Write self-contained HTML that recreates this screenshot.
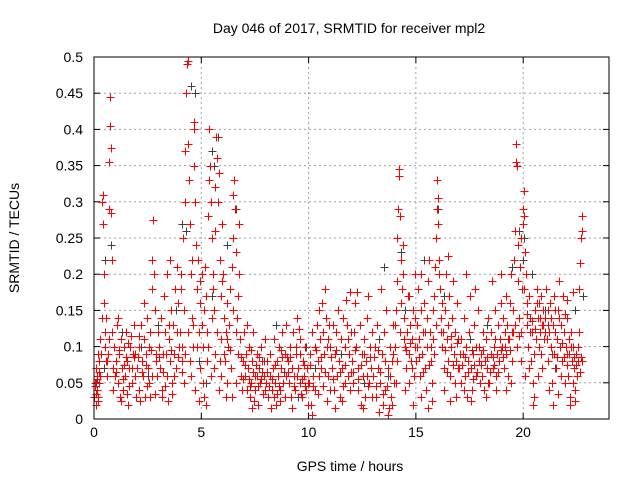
<!DOCTYPE html>
<html><head><meta charset="utf-8">
<style>
html,body{margin:0;padding:0;background:#fff;}
svg{display:block;font-family:"Liberation Sans",Arial,sans-serif;}
</style></head>
<body>
<svg id="chart" width="640" height="480" viewBox="0 0 640 480" xmlns="http://www.w3.org/2000/svg">
<rect width="640" height="480" fill="#fff"/>
<text x="349" y="33" font-size="14" text-anchor="middle" fill="#000">Day 046 of 2017, SRMTID for receiver mpl2</text>
<text transform="translate(19,238) rotate(-90)" font-size="14" text-anchor="middle" fill="#000">SRMTID / TECUs</text>
<text x="350" y="471" font-size="14" text-anchor="middle" fill="#000">GPS time / hours</text>
<g id="grid"></g>
<g id="ticks"></g>
<g id="gray"></g>
<g id="red"></g>
<rect x="94" y="57" width="515" height="362" fill="none" stroke="#000" stroke-width="1"/>
</svg>
<script>
const xTicks = [0,5,10,15,20];
const yTicks = [0,0.05,0.1,0.15,0.2,0.25,0.3,0.35,0.4,0.45,0.5];
const yTickLabels = ["0","0.05","0.1","0.15","0.2","0.25","0.3","0.35","0.4","0.45","0.5"];
const grayPoints = [[0.1,0.05],[0.4,0.27],[0.5,0.22],[0.8,0.24],[0.45,0.07],[1.3,0.12],[2.2,0.1],[3.0,0.13],[3.8,0.15],[4.1,0.27],[4.3,0.26],[4.5,0.46],[4.7,0.45],[4.9,0.08],[5.2,0.05],[5.5,0.37],[5.6,0.35],[5.8,0.39],[5.5,0.17],[6.2,0.24],[6.6,0.29],[7.5,0.04],[8.5,0.13],[9.5,0.03],[10.3,0.07],[11.5,0.09],[12.6,0.05],[13.3,0.11],[13.7,0.06],[13.5,0.21],[14.15,0.29],[14.3,0.23],[14.5,0.15],[15.4,0.22],[16.05,0.29],[16.3,0.17],[17.5,0.11],[18.3,0.13],[19.5,0.21],[19.8,0.26],[20.0,0.22],[20.05,0.25],[20.4,0.2],[21.0,0.15],[21.5,0.07],[22.4,0.15],[22.8,0.17],[2.5,0.06],[7.9,0.08],[9.9,0.1]];
const redPoints = [
[0.02,0.03],[0.05,0.05],[0.08,0.02],[0.1,0.07],[0.12,0.04],[0.15,0.06],[0.18,0.09],[0.2,0.03],[0.22,0.05],[0.25,0.08],[0.28,0.11],[0.3,0.06],[0.35,0.14],[0.38,0.3],[0.4,0.31],[0.42,0.27],[0.45,0.2],[0.47,0.16],[0.5,0.12],[0.52,0.1],[0.55,0.08],[0.58,0.14],[0.6,0.06],[0.65,0.09],[0.7,0.29],[0.72,0.355],[0.74,0.405],[0.75,0.445],[0.77,0.375],[0.8,0.285],[0.82,0.22],[0.85,0.12],[0.88,0.07],[0.9,0.04],[0.95,0.1],[0.98,0.06],
[1.02,0.08],[1.05,0.13],[1.1,0.05],[1.15,0.09],[1.2,0.03],[1.25,0.11],[1.3,0.07],[1.35,0.04],[1.4,0.1],[1.45,0.06],[1.5,0.12],[1.55,0.08],[1.6,0.02],[1.65,0.07],[1.7,0.1],[1.75,0.05],[1.8,0.09],[1.85,0.13],[1.9,0.06],[1.95,0.03],[1.12,0.14],[1.38,0.075],[1.62,0.045],[1.88,0.085],[1.28,0.025],[1.72,0.115],
[2.02,0.07],[2.08,0.1],[2.12,0.04],[2.18,0.13],[2.22,0.08],[2.28,0.06],[2.32,0.11],[2.38,0.03],[2.42,0.09],[2.48,0.14],[2.52,0.07],[2.58,0.05],[2.62,0.12],[2.68,0.18],[2.72,0.22],[2.75,0.275],[2.78,0.2],[2.82,0.15],[2.88,0.09],[2.92,0.06],[2.96,0.12],[2.15,0.025],[2.45,0.045],[2.65,0.095],[2.85,0.035],[2.35,0.16],
[3.02,0.1],[3.08,0.07],[3.12,0.14],[3.18,0.04],[3.22,0.09],[3.28,0.17],[3.32,0.12],[3.38,0.06],[3.42,0.2],[3.48,0.11],[3.52,0.08],[3.58,0.15],[3.62,0.05],[3.68,0.13],[3.72,0.09],[3.78,0.18],[3.82,0.07],[3.88,0.12],[3.92,0.16],[3.97,0.1],[3.15,0.03],[3.45,0.025],[3.65,0.035],[3.85,0.21],[3.55,0.22],
[4.02,0.12],[4.06,0.18],[4.1,0.08],[4.14,0.25],[4.18,0.15],[4.22,0.3],[4.26,0.37],[4.3,0.45],[4.34,0.49],[4.36,0.495],[4.4,0.38],[4.44,0.33],[4.48,0.27],[4.52,0.2],[4.56,0.14],[4.6,0.1],[4.64,0.41],[4.66,0.4],[4.68,0.35],[4.72,0.3],[4.76,0.24],[4.8,0.18],[4.84,0.22],[4.88,0.12],[4.92,0.07],[4.96,0.16],[4.2,0.05],[4.5,0.06],[4.7,0.04],[4.9,0.025],[4.04,0.2],[4.58,0.22],
[5.02,0.2],[5.06,0.1],[5.1,0.05],[5.14,0.15],[5.18,0.21],[5.22,0.02],[5.26,0.08],[5.3,0.28],[5.34,0.33],[5.38,0.4],[5.42,0.35],[5.46,0.3],[5.5,0.25],[5.54,0.2],[5.58,0.15],[5.62,0.26],[5.66,0.32],[5.7,0.39],[5.74,0.36],[5.78,0.3],[5.82,0.34],[5.86,0.22],[5.9,0.17],[5.94,0.11],[5.98,0.27],[5.12,0.03],[5.44,0.06],[5.64,0.09],[5.84,0.04],[5.28,0.12],[5.56,0.18],[5.92,0.06],
[6.02,0.2],[6.06,0.14],[6.1,0.08],[6.14,0.12],[6.18,0.16],[6.22,0.05],[6.26,0.1],[6.3,0.13],[6.34,0.18],[6.38,0.07],[6.42,0.21],[6.46,0.25],[6.5,0.31],[6.54,0.33],[6.58,0.29],[6.62,0.23],[6.66,0.14],[6.7,0.09],[6.74,0.27],[6.78,0.2],[6.82,0.11],[6.86,0.06],[6.9,0.04],[6.94,0.08],[6.98,0.12],[6.16,0.03],[6.44,0.03],[6.64,0.05],
[7.02,0.06],[7.08,0.09],[7.12,0.04],[7.18,0.07],[7.22,0.1],[7.28,0.03],[7.32,0.05],[7.38,0.08],[7.42,0.12],[7.48,0.06],[7.52,0.04],[7.58,0.09],[7.62,0.02],[7.68,0.07],[7.72,0.05],[7.78,0.1],[7.82,0.08],[7.88,0.035],[7.92,0.06],[7.97,0.11],[7.15,0.13],[7.45,0.025],[7.65,0.045],[7.85,0.065],[7.35,0.015],
[8.02,0.05],[8.08,0.08],[8.12,0.03],[8.18,0.06],[8.22,0.09],[8.28,0.04],[8.32,0.07],[8.38,0.11],[8.42,0.05],[8.48,0.02],[8.52,0.08],[8.58,0.06],[8.62,0.1],[8.68,0.04],[8.72,0.07],[8.78,0.12],[8.82,0.05],[8.88,0.09],[8.92,0.03],[8.97,0.06],[8.25,0.015],[8.55,0.035],[8.75,0.085],[8.95,0.13],
[9.02,0.08],[9.08,0.05],[9.12,0.1],[9.18,0.03],[9.22,0.07],[9.28,0.12],[9.32,0.06],[9.38,0.04],[9.42,0.09],[9.48,0.14],[9.52,0.07],[9.58,0.05],[9.62,0.11],[9.68,0.03],[9.72,0.08],[9.78,0.06],[9.82,0.1],[9.88,0.04],[9.92,0.07],[9.97,0.02],[9.25,0.015],[9.55,0.125],[9.85,0.045],
[10.02,0.05],[10.08,0.09],[10.12,0.02],[10.18,0.12],[10.22,0.06],[10.28,0.1],[10.32,0.04],[10.38,0.13],[10.42,0.08],[10.48,0.15],[10.52,0.11],[10.58,0.07],[10.62,0.16],[10.68,0.12],[10.72,0.09],[10.78,0.18],[10.82,0.14],[10.88,0.1],[10.92,0.06],[10.97,0.13],[10.15,0.005],[10.45,0.035],[10.65,0.045],[10.85,0.025],
[11.02,0.1],[11.08,0.07],[11.12,0.13],[11.18,0.04],[11.22,0.09],[11.28,0.12],[11.32,0.06],[11.38,0.15],[11.42,0.08],[11.48,0.03],[11.52,0.11],[11.58,0.07],[11.62,0.14],[11.68,0.05],[11.72,0.1],[11.78,0.13],[11.82,0.06],[11.88,0.09],[11.92,0.04],[11.97,0.12],[11.25,0.015],[11.55,0.025],[11.75,0.165],[11.95,0.175],
[12.02,0.08],[12.08,0.05],[12.12,0.12],[12.18,0.16],[12.22,0.1],[12.28,0.04],[12.32,0.07],[12.38,0.13],[12.42,0.02],[12.48,0.09],[12.52,0.06],[12.58,0.11],[12.62,0.03],[12.68,0.08],[12.72,0.14],[12.78,0.17],[12.82,0.05],[12.88,0.1],[12.92,0.07],[12.97,0.03],[12.25,0.175],[12.55,0.015],[12.75,0.045],
[13.02,0.06],[13.08,0.1],[13.12,0.03],[13.18,0.13],[13.22,0.07],[13.28,0.01],[13.32,0.05],[13.38,0.18],[13.42,0.09],[13.48,0.02],[13.52,0.12],[13.58,0.04],[13.62,0.15],[13.68,0.07],[13.72,0.005],[13.78,0.1],[13.82,0.03],[13.88,0.08],[13.92,0.13],[13.97,0.05],[13.45,0.035],[13.75,0.015],[13.9,0.02],
[14.02,0.1],[14.06,0.15],[14.1,0.19],[14.14,0.25],[14.18,0.29],[14.2,0.335],[14.22,0.345],[14.26,0.28],[14.3,0.22],[14.34,0.18],[14.38,0.24],[14.42,0.2],[14.46,0.14],[14.5,0.1],[14.54,0.07],[14.58,0.12],[14.62,0.17],[14.66,0.09],[14.7,0.05],[14.74,0.13],[14.78,0.08],[14.82,0.11],[14.86,0.15],[14.9,0.06],[14.94,0.2],[14.98,0.1],[14.08,0.05],[14.28,0.12],[14.48,0.04],[14.68,0.17],[14.88,0.02],
[15.02,0.08],[15.06,0.13],[15.1,0.18],[15.14,0.11],[15.18,0.06],[15.22,0.15],[15.26,0.2],[15.3,0.09],[15.34,0.12],[15.38,0.16],[15.42,0.07],[15.46,0.04],[15.5,0.1],[15.54,0.14],[15.58,0.19],[15.62,0.22],[15.66,0.12],[15.7,0.08],[15.74,0.05],[15.78,0.15],[15.82,0.11],[15.86,0.17],[15.9,0.21],[15.94,0.25],[15.98,0.29],[15.24,0.03],[15.56,0.015],[15.76,0.025],
[16.0,0.33],[16.02,0.305],[16.04,0.27],[16.08,0.22],[16.12,0.18],[16.16,0.14],[16.2,0.1],[16.24,0.16],[16.28,0.12],[16.32,0.07],[16.36,0.15],[16.4,0.2],[16.44,0.11],[16.48,0.08],[16.52,0.13],[16.56,0.17],[16.6,0.06],[16.64,0.1],[16.68,0.14],[16.72,0.19],[16.76,0.09],[16.8,0.12],[16.84,0.05],[16.88,0.08],[16.92,0.16],[16.96,0.11],[16.3,0.04],[16.58,0.025],[16.86,0.03],[16.5,0.225],
[17.02,0.07],[17.08,0.11],[17.12,0.05],[17.18,0.09],[17.22,0.14],[17.28,0.06],[17.32,0.1],[17.38,0.03],[17.42,0.08],[17.48,0.12],[17.52,0.17],[17.58,0.07],[17.62,0.04],[17.68,0.09],[17.72,0.13],[17.78,0.06],[17.82,0.1],[17.88,0.15],[17.92,0.08],[17.97,0.05],[17.35,0.2],[17.55,0.025],[17.75,0.18],
[18.02,0.09],[18.08,0.06],[18.12,0.12],[18.18,0.04],[18.22,0.08],[18.28,0.11],[18.32,0.07],[18.38,0.14],[18.42,0.05],[18.48,0.09],[18.52,0.12],[18.58,0.07],[18.62,0.1],[18.68,0.15],[18.72,0.06],[18.78,0.09],[18.82,0.13],[18.88,0.08],[18.92,0.11],[18.97,0.16],[18.25,0.03],[18.55,0.19],[18.75,0.04],[18.95,0.2],
[19.02,0.1],[19.06,0.14],[19.1,0.07],[19.14,0.12],[19.18,0.17],[19.22,0.09],[19.26,0.13],[19.3,0.06],[19.34,0.11],[19.38,0.16],[19.42,0.2],[19.46,0.12],[19.5,0.08],[19.54,0.15],[19.58,0.22],[19.62,0.26],[19.66,0.355],[19.68,0.38],[19.7,0.35],[19.74,0.24],[19.78,0.19],[19.82,0.14],[19.86,0.21],[19.9,0.25],[19.94,0.18],[19.98,0.27],[19.2,0.04],[19.45,0.05],[19.72,0.1],[19.88,0.08],
[20.0,0.29],[20.02,0.315],[20.04,0.28],[20.08,0.23],[20.12,0.2],[20.16,0.16],[20.2,0.13],[20.24,0.1],[20.28,0.17],[20.32,0.14],[20.36,0.08],[20.4,0.12],[20.44,0.05],[20.48,0.02],[20.52,0.09],[20.56,0.15],[20.6,0.11],[20.64,0.18],[20.68,0.14],[20.72,0.1],[20.76,0.16],[20.8,0.12],[20.84,0.17],[20.88,0.13],[20.92,0.15],[20.96,0.11],[20.1,0.06],[20.5,0.03],[20.7,0.06],[20.9,0.07],
[21.02,0.14],[21.06,0.18],[21.1,0.11],[21.14,0.15],[21.18,0.08],[21.22,0.12],[21.26,0.16],[21.3,0.1],[21.34,0.05],[21.38,0.13],[21.42,0.09],[21.46,0.17],[21.5,0.12],[21.54,0.07],[21.58,0.11],[21.62,0.15],[21.66,0.19],[21.7,0.1],[21.74,0.06],[21.78,0.13],[21.82,0.08],[21.86,0.17],[21.9,0.12],[21.94,0.05],[21.98,0.1],[21.2,0.04],[21.4,0.02],[21.6,0.035],
[22.02,0.09],[22.06,0.14],[22.1,0.06],[22.14,0.11],[22.18,0.03],[22.22,0.12],[22.26,0.08],[22.3,0.05],[22.34,0.1],[22.38,0.07],[22.42,0.04],[22.46,0.09],[22.5,0.06],[22.54,0.08],[22.58,0.12],[22.62,0.18],[22.66,0.215],[22.7,0.25],[22.72,0.26],[22.74,0.28],[22.2,0.02],[22.4,0.025],[22.05,0.165],[22.3,0.175]
];
const redPointsExtra = [
[0.03,0.045],[0.07,0.035],[0.13,0.055],[0.17,0.025],[0.24,0.065],[0.33,0.09],[0.62,0.08],[0.68,0.11],
[1.03,0.065],[1.18,0.095],[1.33,0.055],[1.47,0.085],[1.58,0.105],[1.77,0.07],[1.93,0.09],[1.52,0.035],
[2.05,0.085],[2.25,0.065],[2.4,0.075],[2.55,0.1],[2.7,0.06],[2.9,0.08],[2.1,0.115],[2.6,0.03],
[3.05,0.085],[3.2,0.065],[3.35,0.09],[3.5,0.13],[3.6,0.095],[3.75,0.06],[3.9,0.085],[3.3,0.045],
[4.08,0.1],[4.24,0.09],[4.38,0.12],[4.46,0.08],[4.62,0.13],[4.78,0.1],[4.94,0.19],[4.12,0.065],
[5.04,0.13],[5.2,0.17],[5.32,0.1],[5.48,0.14],[5.6,0.07],[5.72,0.12],[5.88,0.08],[5.96,0.19],
[6.04,0.09],[6.2,0.11],[6.32,0.095],[6.48,0.15],[6.6,0.12],[6.72,0.17],[6.84,0.085],[6.96,0.055],
[7.05,0.075],[7.2,0.055],[7.3,0.095],[7.4,0.065],[7.55,0.075],[7.7,0.085],[7.8,0.055],[7.95,0.04],[7.25,0.045],[7.6,0.06],
[8.05,0.065],[8.15,0.045],[8.3,0.055],[8.45,0.075],[8.6,0.045],[8.7,0.095],[8.85,0.065],[8.99,0.085],[8.4,0.03],[8.65,0.025],
[9.05,0.065],[9.15,0.085],[9.3,0.045],[9.45,0.06],[9.6,0.09],[9.7,0.055],[9.8,0.075],[9.95,0.05],[9.4,0.1],[9.65,0.035],
[10.05,0.075],[10.2,0.045],[10.35,0.095],[10.5,0.06],[10.6,0.085],[10.75,0.065],[10.9,0.11],[10.99,0.04],
[11.05,0.085],[11.15,0.055],[11.3,0.095],[11.45,0.065],[11.6,0.045],[11.7,0.075],[11.85,0.11],[11.99,0.065],
[12.05,0.065],[12.15,0.095],[12.3,0.055],[12.45,0.075],[12.6,0.09],[12.7,0.06],[12.85,0.085],[12.95,0.12],
[13.05,0.085],[13.15,0.045],[13.25,0.095],[13.35,0.065],[13.55,0.08],[13.65,0.045],[13.8,0.06],[13.95,0.09],
[14.04,0.13],[14.12,0.08],[14.32,0.16],[14.44,0.11],[14.56,0.095],[14.72,0.105],[14.84,0.07],[14.96,0.14],
[15.04,0.1],[15.16,0.085],[15.32,0.065],[15.44,0.12],[15.6,0.075],[15.72,0.1],[15.84,0.09],[15.96,0.13],
[16.06,0.2],[16.18,0.12],[16.34,0.095],[16.46,0.065],[16.62,0.115],[16.74,0.075],[16.9,0.105],[16.98,0.07],
[17.05,0.09],[17.15,0.075],[17.3,0.085],[17.45,0.065],[17.6,0.095],[17.7,0.075],[17.85,0.065],[17.95,0.1],[17.25,0.04],[17.65,0.055],
[18.05,0.075],[18.15,0.095],[18.3,0.085],[18.45,0.065],[18.6,0.085],[18.7,0.11],[18.85,0.065],[18.99,0.095],[18.35,0.05],[18.65,0.075],
[19.04,0.085],[19.16,0.1],[19.28,0.11],[19.4,0.095],[19.52,0.12],[19.64,0.13],[19.8,0.115],[19.92,0.12],
[20.06,0.18],[20.18,0.145],[20.3,0.12],[20.42,0.135],[20.54,0.125],[20.66,0.16],[20.78,0.14],[20.94,0.13],[20.26,0.07],[20.82,0.09],
[21.04,0.12],[21.16,0.13],[21.28,0.14],[21.36,0.09],[21.48,0.15],[21.56,0.085],[21.68,0.14],[21.8,0.105],[21.92,0.085],[21.96,0.145],
[22.04,0.075],[22.12,0.09],[22.24,0.1],[22.36,0.085],[22.48,0.075],[22.56,0.1],[22.64,0.065],[22.68,0.085],[22.76,0.08]
];
const NS = "http://www.w3.org/2000/svg";
const L = 94, R = 609, T = 57, B = 419, XMAX = 24, YMAX = 0.5;
function xs(v){ return L + (R - L) * v / XMAX; }
function ys(v){ return B - (B - T) * v / YMAX; }
function mk(tag, attrs, parent){ const e = document.createElementNS(NS, tag); for (const k in attrs) e.setAttribute(k, attrs[k]); parent.appendChild(e); return e; }
const grid = document.getElementById('grid'), ticks = document.getElementById('ticks');
xTicks.forEach(t => {
  const x = xs(t);
  if (t > 0) { const g = mk('line', {x1:x, x2:x, y1:T, y2:B, stroke:'#a0a0a0', 'stroke-dasharray':'2,3', 'stroke-width':1}, grid);
    
     }
  mk('line', {x1:x, x2:x, y1:B, y2:B-6, stroke:'#000'}, ticks);
  mk('line', {x1:x, x2:x, y1:T, y2:T+6, stroke:'#000'}, ticks);
  const lb = mk('text', {x:x, y:B+18, 'font-size':14, 'text-anchor':'middle', fill:'#000'}, ticks);
  lb.textContent = String(t);
  
  
});
yTicks.forEach((t, i) => {
  const y = ys(t);
  if (t > 0 && t < YMAX) { const g = mk('line', {x1:L, x2:R, y1:y, y2:y, stroke:'#a0a0a0', 'stroke-dasharray':'2,3', 'stroke-width':1}, grid);
    
     }
  mk('line', {x1:L, x2:L+6, y1:y, y2:y, stroke:'#000'}, ticks);
  mk('line', {x1:R, x2:R-6, y1:y, y2:y, stroke:'#000'}, ticks);
  const lb = mk('text', {x:L-11, y:y+5, 'font-size':14, 'text-anchor':'end', fill:'#000'}, ticks);
  lb.textContent = yTickLabels[i];
  
  
});
function plus(p, color, parent){
  const x = Math.round(xs(p[0])) + 0.5, y = Math.round(ys(p[1])) + 0.5;
  return mk('path', {d:`M${x-4} ${y}H${x+4}M${x} ${y-4}V${y+4}`, stroke:color, 'stroke-width':1, fill:'none'}, parent);
}
const gG = document.getElementById('gray'), gR = document.getElementById('red');
grayPoints.forEach(p => { const e = plus(p, '#404040', gG);
  
   });
redPoints.concat(redPointsExtra).forEach(p => { const e = plus(p, '#ff0000', gR);
  
   });
</script>
</body></html>
